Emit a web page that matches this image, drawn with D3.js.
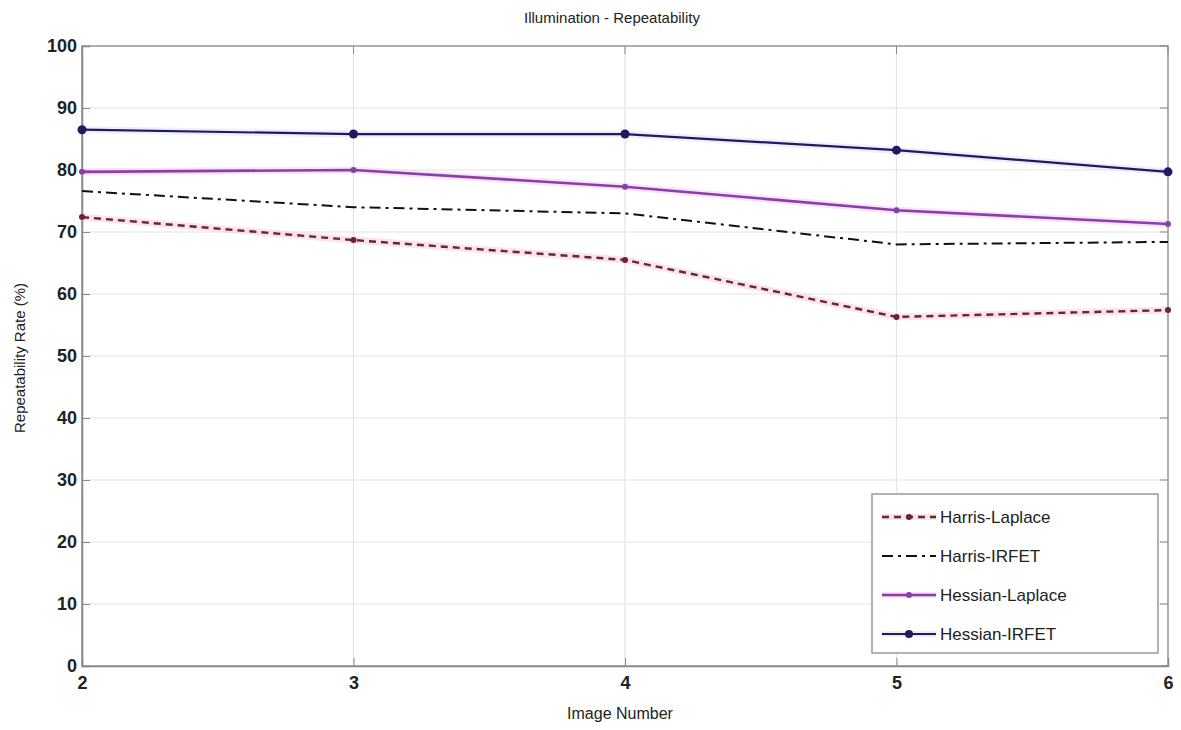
<!DOCTYPE html>
<html><head><meta charset="utf-8">
<script src="https://cdn.jsdelivr.net/npm/d3@7"></script>
<style>body{margin:0;background:#fff;} svg{display:block;font-family:"Liberation Sans",Arial,sans-serif;}</style>
</head><body>
<svg id="c" width="1181" height="730"></svg>
<script>
const imageNumbers = [2, 3, 4, 5, 6];
const harrisLaplace = [72.4, 68.7, 65.5, 56.3, 57.4];
const harrisIRFET = [76.6, 74.0, 73.0, 68.0, 68.4];
const hessianLaplace = [79.7, 80.0, 77.3, 73.5, 71.3];
const hessianIRFET = [86.5, 85.8, 85.8, 83.2, 79.7];
const yTicks = [0,10,20,30,40,50,60,70,80,90,100];
const seriesNames = ["Harris-Laplace","Harris-IRFET","Hessian-Laplace","Hessian-IRFET"];

const series = [
  {name: seriesNames[0], values: harrisLaplace, color: "#6e2234", halo: "#f6d2de", dash: "7,5", r: 3, width: 2.4},
  {name: seriesNames[1], values: harrisIRFET, color: "#111", halo: null, dash: "11,5,3,5", r: 0, width: 2},
  {name: seriesNames[2], values: hessianLaplace, color: "#8a3fa8", halo: "#f3d0f6", dash: null, r: 3, width: 2.6},
  {name: seriesNames[3], values: hessianIRFET, color: "#1c1c5e", halo: "#e6e2f8", dash: null, r: 4.5, width: 2.2}
];

const svg = d3.select("#c");
const m = {l: 82, r: 1168, t: 46, b: 666};
const x = d3.scaleLinear().domain([2, 6]).range([m.l, m.r]);
const y = d3.scaleLinear().domain([0, 100]).range([m.b, m.t]);

// grid
const g = svg.append("g");
g.selectAll(".gy").data(yTicks).join("line")
  .attr("x1", m.l).attr("x2", m.r).attr("y1", d => y(d)).attr("y2", d => y(d))
  .attr("stroke", "#e4e4e4").attr("stroke-width", 1.2);
g.selectAll(".gx").data(imageNumbers).join("line")
  .attr("x1", d => x(d)).attr("x2", d => x(d)).attr("y1", m.t).attr("y2", m.b)
  .attr("stroke", "#e4e4e4").attr("stroke-width", 1.2);

// frame
svg.append("rect").attr("x", m.l).attr("y", m.t).attr("width", m.r - m.l).attr("height", m.b - m.t)
  .attr("fill", "none").attr("stroke", "#9a9a9a").attr("stroke-width", 1.5);

// axes
const xAxis = d3.axisBottom(x).tickValues(imageNumbers).tickFormat(d3.format("d")).tickSize(-8).tickPadding(10);
const yAxis = d3.axisLeft(y).tickValues(yTicks).tickSize(-8).tickPadding(5);
const xa = svg.append("g").attr("transform", `translate(0,${m.b})`).call(xAxis);
const ya = svg.append("g").attr("transform", `translate(${m.l},0)`).call(yAxis);
[xa, ya].forEach(a => {
  a.select(".domain").attr("stroke", "#888").attr("stroke-width", 1.5);
  a.selectAll(".tick line").attr("stroke", "#888");
  a.selectAll(".tick text").attr("fill", "#222").attr("font-size", 18).attr("font-weight", "bold")
    .attr("font-family", "'Liberation Sans Narrow','Liberation Sans',Arial,sans-serif");
});
// top/right ticks
svg.append("g").selectAll("line").data(imageNumbers).join("line")
  .attr("x1", d => x(d)).attr("x2", d => x(d)).attr("y1", m.t).attr("y2", m.t + 8).attr("stroke", "#888");
svg.append("g").selectAll("line").data(yTicks).join("line")
  .attr("x1", m.r - 8).attr("x2", m.r).attr("y1", d => y(d)).attr("y2", d => y(d)).attr("stroke", "#888");

// lines
const line = d3.line().x((d, i) => x(imageNumbers[i])).y(d => y(d));
series.forEach(s => {
  if (s.halo) {
    svg.append("path").attr("d", line(s.values)).attr("fill", "none")
      .attr("stroke", s.halo).attr("stroke-width", 7).attr("opacity", 0.6);
  }
  svg.append("path").attr("d", line(s.values)).attr("fill", "none")
    .attr("stroke", s.color).attr("stroke-width", s.width)
    .attr("stroke-dasharray", s.dash);
  if (s.r) {
    svg.append("g").selectAll("circle").data(s.values).join("circle")
      .attr("cx", (d, i) => x(imageNumbers[i])).attr("cy", d => y(d)).attr("r", s.r)
      .attr("fill", s.color);
  }
});

// legend
const lg = svg.append("g").attr("transform", "translate(872,494)");
lg.append("rect").attr("width", 286).attr("height", 159).attr("fill", "#fff")
  .attr("stroke", "#999").attr("stroke-width", 1.5);
series.forEach((s, i) => {
  const yy = 23 + i * 39;
  const row = lg.append("g").attr("transform", `translate(0,${yy})`);
  if (s.halo) row.append("line").attr("x1", 10).attr("x2", 64).attr("stroke", s.halo).attr("stroke-width", 6).attr("opacity", 0.6);
  row.append("line").attr("x1", 10).attr("x2", 64).attr("stroke", s.color).attr("stroke-width", s.width)
    .attr("stroke-dasharray", s.dash);
  if (s.r) row.append("circle").attr("cx", 37).attr("r", Math.min(s.r, 4)).attr("fill", s.color);
  row.append("text").attr("x", 68).attr("y", 6).attr("font-size", 17).attr("fill", "#222")
    .text(s.name);
});

// labels
svg.append("text").attr("x", 612).attr("y", 23).attr("text-anchor", "middle")
  .attr("font-size", 15).attr("fill", "#222").text("Illumination - Repeatability");
svg.append("text").attr("x", 620).attr("y", 719).attr("text-anchor", "middle")
  .attr("font-size", 16).attr("fill", "#222").text("Image Number");
svg.append("text").attr("transform", "translate(25,358) rotate(-90)").attr("text-anchor", "middle")
  .attr("font-size", 15).attr("fill", "#222").text("Repeatability Rate (%)");
</script>
</body></html>
